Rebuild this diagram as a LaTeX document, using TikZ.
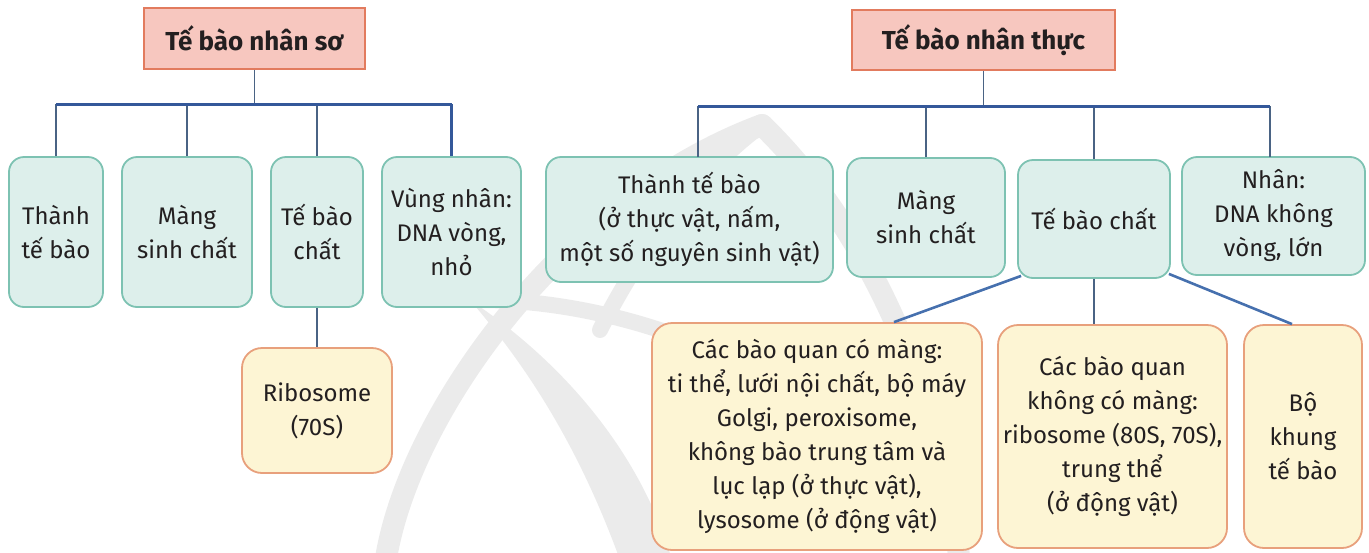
\documentclass[tikz,border=0pt]{standalone}
\usepackage{fontspec}
\setmainfont{Fira Sans}
\usetikzlibrary{calc}
\definecolor{titlefill}{HTML}{F7C7BF}
\definecolor{titledraw}{HTML}{E27B5E}
\definecolor{tealfill}{HTML}{DDEFEB}
\definecolor{tealdraw}{HTML}{7DC2B2}
\definecolor{yelfill}{HTML}{FDF5D4}
\definecolor{yeldraw}{HTML}{E8A07C}
\definecolor{busblue}{HTML}{34589A}
\definecolor{dropcol}{HTML}{4A6384}
\definecolor{linkblue}{HTML}{4670AE}
\definecolor{wmark}{HTML}{EBEBEB}
\definecolor{inktext}{HTML}{231F20}
\tikzset{
  txt/.style={align=center, text=inktext, font=\fontsize{24}{34}\selectfont, inner sep=0pt},
  titlebox/.style={txt, draw=titledraw, fill=titlefill, line width=1.6pt, font=\bfseries\fontsize{26}{30}\selectfont},
  tealbox/.style={txt, draw=tealdraw, fill=tealfill, line width=1.8pt, rounded corners=15pt},
  yelbox/.style={txt, draw=yeldraw, fill=yelfill, line width=1.8pt, rounded corners=20pt},
  bus/.style={draw=busblue, line width=3pt},
  drop/.style={draw=dropcol, line width=1.5pt},
  link/.style={draw=linkblue, line width=2.6pt},
}
\begin{document}
\begin{tikzpicture}[x=1pt,y=-1pt]
\useasboundingbox (0,0) rectangle (1369,552);
% faint watermark
\begin{scope}[wmark, line cap=round]
\draw[line width=22pt] (385,565) .. controls (405,420) and (560,200) .. (762,125);
\draw[line width=22pt] (762,125) .. controls (860,220) and (940,380) .. (960,565);
\fill (470,300) .. controls (560,360) and (640,450) .. (672,560) -- (620,560) .. controls (580,450) and (530,370) .. (470,300) -- cycle;
\draw[line width=16pt] (480,300) .. controls (560,300) and (640,320) .. (700,345);
\draw[line width=16pt] (600,330) .. controls (640,250) and (700,170) .. (762,125);
\end{scope}

% left tree
\node[titlebox, minimum width=221pt, minimum height=61pt] (t1) at (254.5,38.5) {Tế bào nhân sơ};
\node[tealbox, minimum width=94pt, minimum height=150pt] (a1) at (56,232) {Thành\\tế bào};
\node[tealbox, minimum width=130pt, minimum height=150pt] (a2) at (187,232) {Màng\\sinh chất};
\node[tealbox, minimum width=92pt, minimum height=150pt] (a3) at (317,232) {Tế bào\\chất};
\node[tealbox, minimum width=139pt, minimum height=150pt] (a4) at (451.5,232) {Vùng nhân:\\DNA vòng,\\nhỏ};
\node[yelbox, minimum width=150pt, minimum height=125pt] (r1) at (317,410.5) {Ribosome\\(70S)};

\coordinate (lb) at (254.5,104);
\draw[drop] (t1.south) -- (lb);
\draw[drop] (a1.north) -- (a1.north |- lb);
\draw[drop] (a2.north) -- (a2.north |- lb);
\draw[drop] (a3.north) -- (a3.north |- lb);
\draw[bus] (a4.north) -- (a4.north |- lb);
\draw[bus] (a1.north |- lb) -- (a4.north |- lb);
\draw[drop] (a3.south) -- (r1.north);

% right tree
\node[titlebox, minimum width=263pt, minimum height=60pt] (t2) at (983.5,40) {Tế bào nhân thực};
\node[tealbox, minimum width=287pt, minimum height=125pt] (b1) at (689.5,219.5) {Thành tế bào\\(ở thực vật, nấm,\\một số nguyên sinh vật)};
\node[tealbox, minimum width=158pt, minimum height=119pt] (b2) at (926,217.5) {Màng\\sinh chất};
\node[tealbox, minimum width=152pt, minimum height=118pt] (b3) at (1094,219) {Tế bào chất};
\node[tealbox, minimum width=183pt, minimum height=118pt] (b4) at (1273.5,216) {Nhân:\\DNA không\\vòng, lớn};
\node[yelbox, minimum width=330pt, minimum height=227pt] (c1) at (817,436.5) {Các bào quan có màng:\\ti thể, lưới nội chất, bộ máy\\Golgi, peroxisome,\\không bào trung tâm và\\lục lạp (ở thực vật),\\lysosome (ở động vật)};
\node[yelbox, minimum width=229pt, minimum height=223pt] (c2) at (1112.5,436.5) {Các bào quan\\không có màng:\\ribosome (80S, 70S),\\trung thể\\(ở động vật)};
\node[yelbox, minimum width=118pt, minimum height=223pt] (c3) at (1303,436.5) {Bộ\\khung\\tế bào};

\coordinate (rb) at (983.5,106);
\coordinate (b1top) at (698,157);
\coordinate (b4top) at (1270,157);
\draw[drop] (t2.south) -- (rb);
\draw[drop] (b1top) -- (b1top |- rb);
\draw[drop] (b2.north) -- (b2.north |- rb);
\draw[drop] (b3.north) -- (b3.north |- rb);
\draw[drop] (b4top) -- (b4top |- rb);
\draw[bus] (b1top |- rb) -- (b4top |- rb);

\draw[link] ($(b3.south west)+(4,-3)$) -- ($(c1.north)+(77,0)$);
\draw[drop, line width=2pt] (b3.south) -- (b3.south |- c2.north);
\draw[link] ($(b3.south east)+(-2,-5)$) -- ($(c3.north)+(-11,0)$);
\end{tikzpicture}
\end{document}
